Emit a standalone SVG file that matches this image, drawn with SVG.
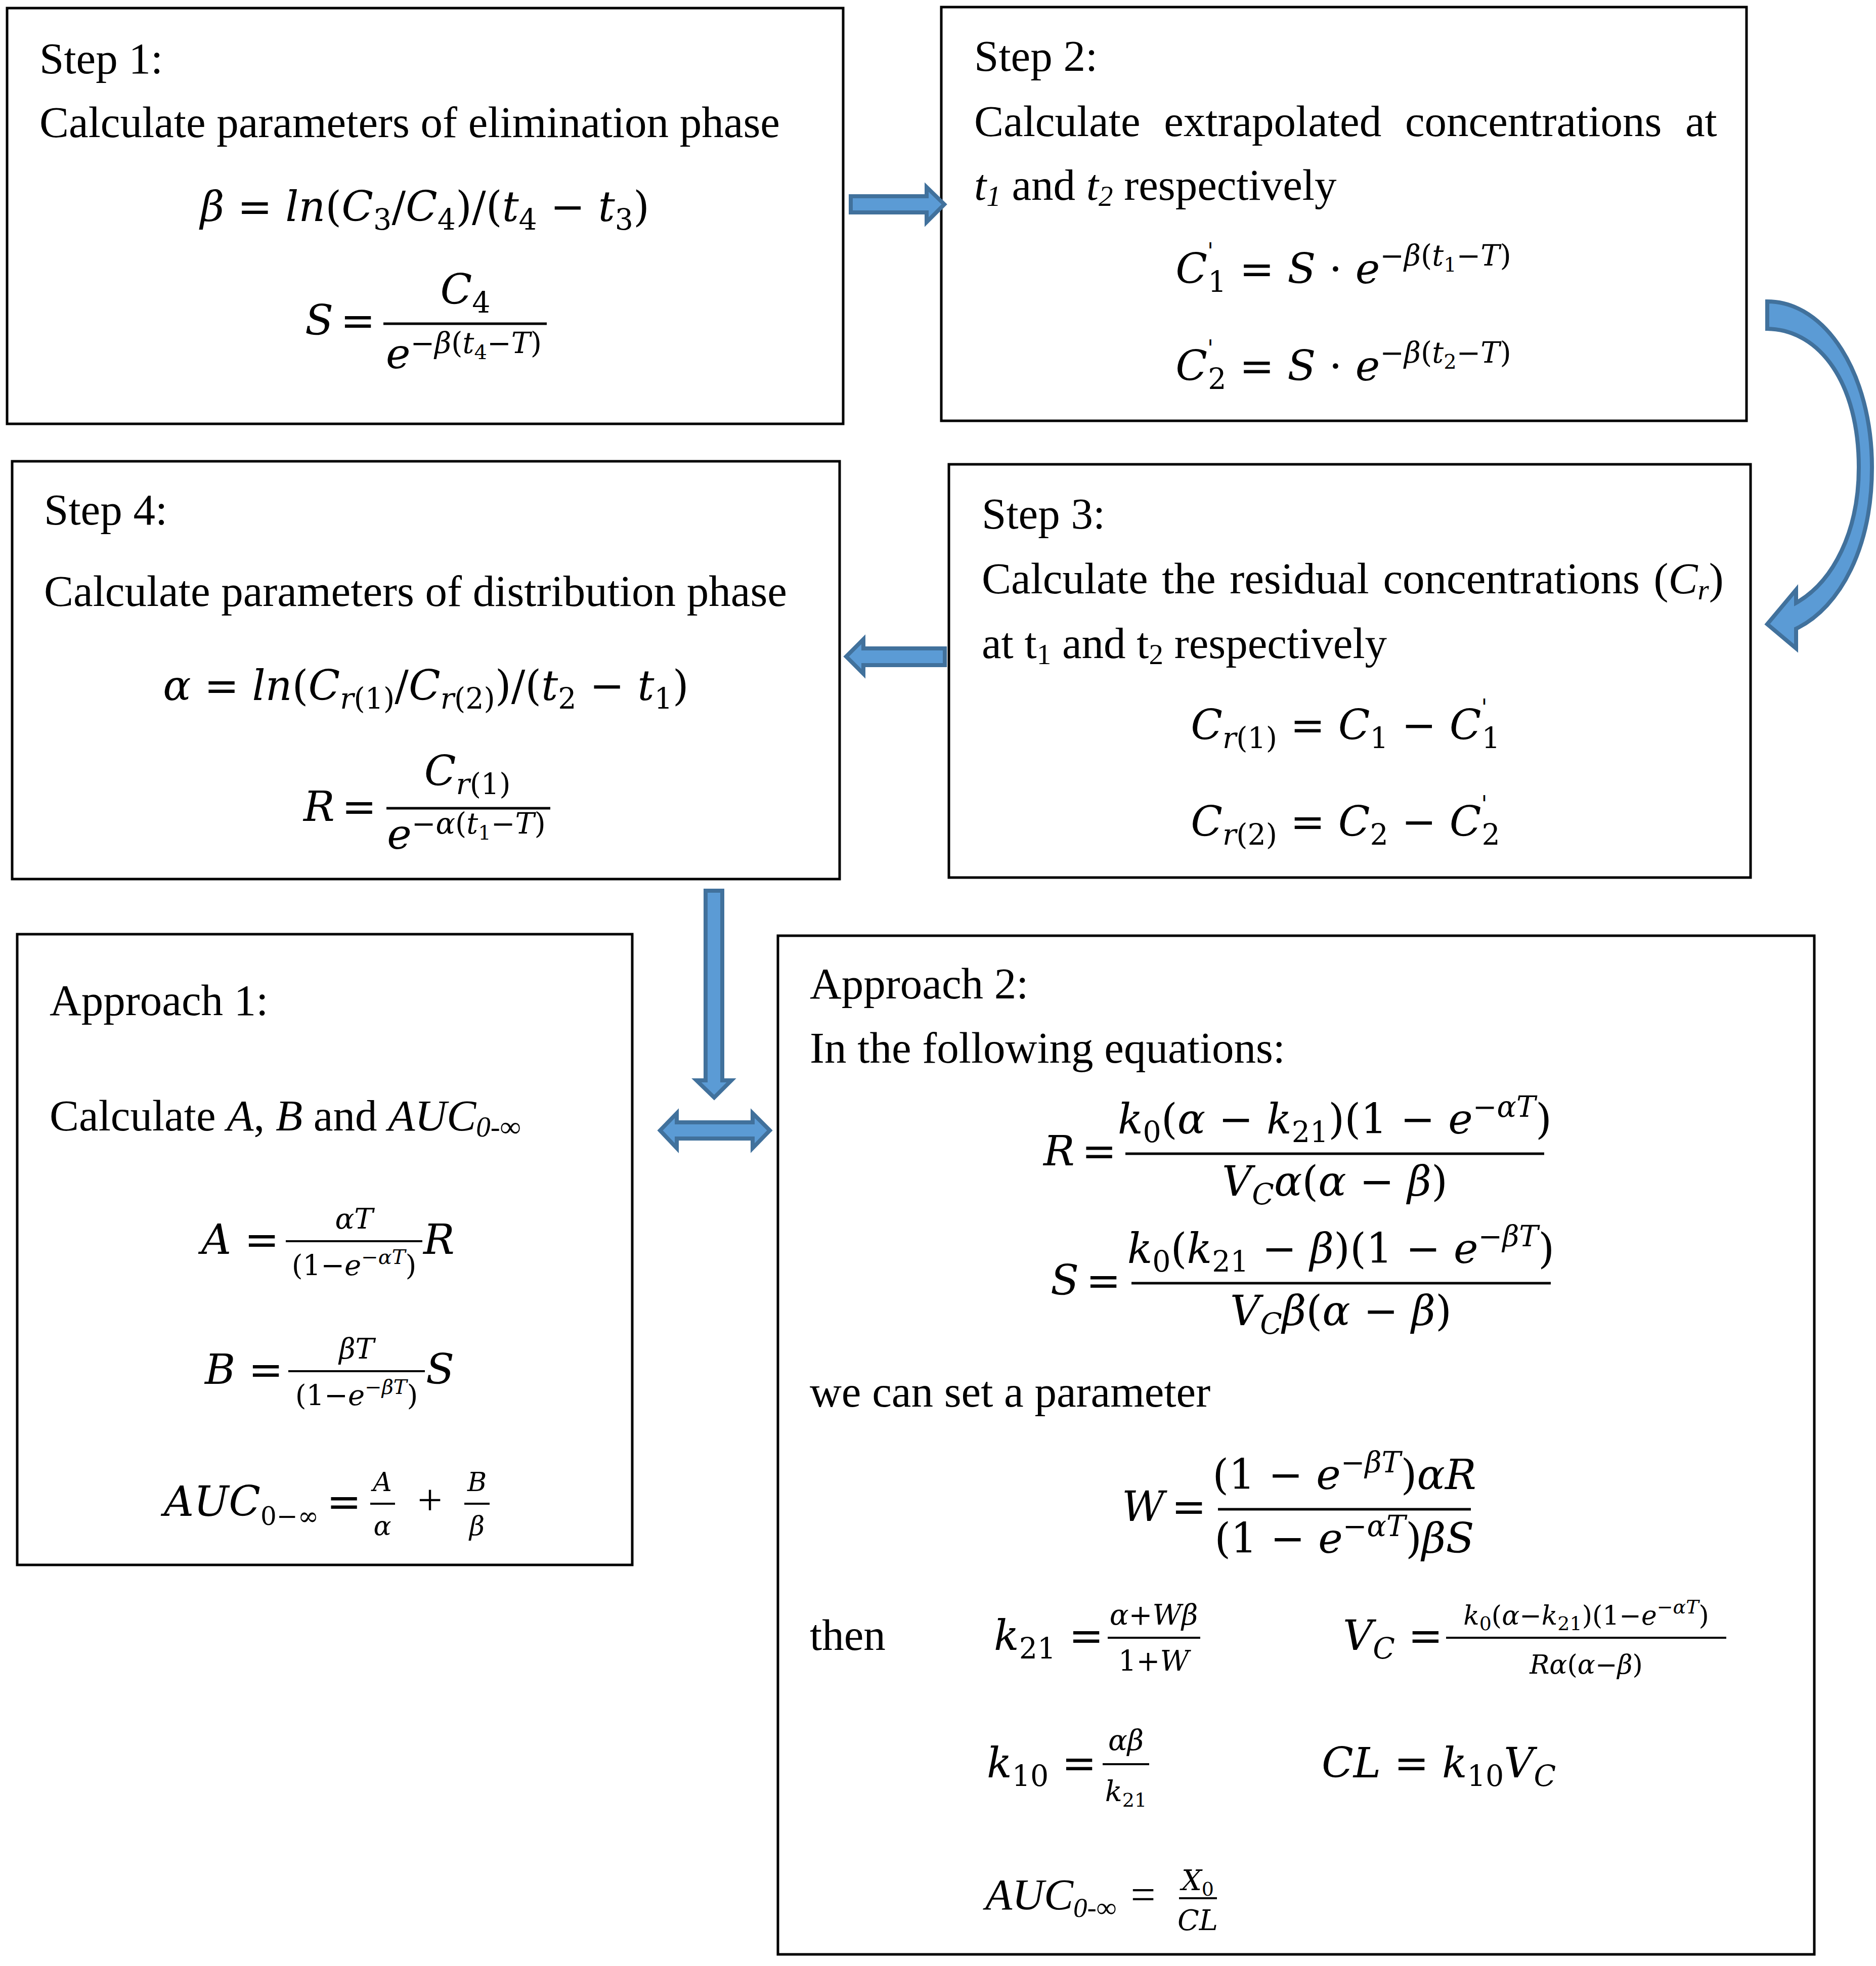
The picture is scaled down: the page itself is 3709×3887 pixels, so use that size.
<svg xmlns="http://www.w3.org/2000/svg" width="3709" height="3887" viewBox="0 0 3709 3887">
<style>
.bg{fill:#fff}
.box{fill:#fff;stroke:#000;stroke-width:5}
.tx{font-family:"Liberation Serif","Times New Roman",serif;font-size:87px;fill:#000}
.mx{font-family:"DejaVu Serif",serif;font-size:82px;fill:#000}
.i{font-style:italic}
.sb{font-size:57px}
.sp{font-size:57px}
.pr{font-size:44px}
.ss{font-size:40px}
.f2{font-size:56px}
.f3{font-size:52px}
.s3{font-size:38px}
.fl{stroke:#000;stroke-width:5}
.fl2{stroke:#000;stroke-width:4}
.arr{fill:#5B9BD5;stroke:#41719C;stroke-width:8;stroke-linejoin:miter}
</style>
<rect class="bg" x="0" y="0" width="3709" height="3887"/>

<g id="step1">
<rect class="box" x="14" y="16" width="1653" height="822"/>
<text class="tx" x="78" y="145">Step 1:</text>
<text class="tx" x="78" y="271">Calculate parameters of elimination phase</text>
<text class="mx" x="840" y="437" text-anchor="middle"><tspan class="i">β</tspan> = <tspan class="i">ln</tspan>(<tspan class="i">C</tspan><tspan class="sb" dy="17">3</tspan><tspan dy="-17">/</tspan><tspan class="i">C</tspan><tspan class="sb" dy="17">4</tspan><tspan dy="-17">)/(</tspan><tspan class="i">t</tspan><tspan class="sb" dy="17">4</tspan><tspan dy="-17"> − </tspan><tspan class="i">t</tspan><tspan class="sb" dy="17">3</tspan><tspan dy="-17">)</tspan></text>
<text class="mx" x="603" y="662"><tspan class="i">S</tspan><tspan dx="14">=</tspan></text>
<line class="fl" x1="758" y1="640" x2="1081" y2="640"/>
<text class="mx" x="920" y="601" text-anchor="middle"><tspan class="i">C</tspan><tspan class="sb" dy="17">4</tspan></text>
<text class="mx" x="917" y="728" text-anchor="middle"><tspan class="i">e</tspan><tspan class="sp" dy="-30">−</tspan><tspan class="sp i">β</tspan><tspan class="sp">(</tspan><tspan class="sp i">t</tspan><tspan class="ss" dy="12">4</tspan><tspan class="sp" dy="-12">−</tspan><tspan class="sp i">T</tspan><tspan class="sp">)</tspan></text>
</g>

<g id="step2">
<rect class="box" x="1861" y="14" width="1592" height="818"/>
<text class="tx" x="1926" y="140">Step 2:</text>
<text class="tx" x="1926" y="269" word-spacing="25">Calculate extrapolated concentrations at</text>
<text class="tx" x="1926" y="395"><tspan class="i">t</tspan><tspan class="i" font-size="57" dy="12">1</tspan><tspan dy="-12"> and </tspan><tspan class="i">t</tspan><tspan class="i" font-size="57" dy="12">2</tspan><tspan dy="-12"> respectively</tspan></text>
<text class="mx" x="2656" y="560" text-anchor="middle"><tspan class="i">C</tspan><tspan class="pr" dy="-48">'</tspan><tspan class="sb" dx="-11" dy="65">1</tspan><tspan dy="-17"> = </tspan><tspan class="i">S</tspan> · <tspan class="i">e</tspan><tspan class="sp" dy="-35">−</tspan><tspan class="sp i">β</tspan><tspan class="sp">(</tspan><tspan class="sp i">t</tspan><tspan class="ss" dy="12">1</tspan><tspan class="sp" dy="-12">−</tspan><tspan class="sp i">T</tspan><tspan class="sp">)</tspan></text>
<text class="mx" x="2656" y="752" text-anchor="middle"><tspan class="i">C</tspan><tspan class="pr" dy="-48">'</tspan><tspan class="sb" dx="-11" dy="65">2</tspan><tspan dy="-17"> = </tspan><tspan class="i">S</tspan> · <tspan class="i">e</tspan><tspan class="sp" dy="-35">−</tspan><tspan class="sp i">β</tspan><tspan class="sp">(</tspan><tspan class="sp i">t</tspan><tspan class="ss" dy="12">2</tspan><tspan class="sp" dy="-12">−</tspan><tspan class="sp i">T</tspan><tspan class="sp">)</tspan></text>
</g>

<g id="step3">
<rect class="box" x="1876" y="918" width="1585" height="817"/>
<text class="tx" x="1941" y="1045">Step 3:</text>
<text class="tx" x="1941" y="1173" word-spacing="6">Calculate the residual concentrations (<tspan class="i">C</tspan><tspan class="i" font-size="57" dy="12">r</tspan><tspan dy="-12">)</tspan></text>
<text class="tx" x="1941" y="1301">at t<tspan font-size="57" dy="12">1</tspan><tspan dy="-12"> and t</tspan><tspan font-size="57" dy="12">2</tspan><tspan dy="-12"> respectively</tspan></text>
<text class="mx" x="2660" y="1462" text-anchor="middle"><tspan class="i">C</tspan><tspan class="sb i" dy="17">r</tspan><tspan class="sb">(1)</tspan><tspan dy="-17"> = </tspan><tspan class="i">C</tspan><tspan class="sb" dy="17">1</tspan><tspan dy="-17"> − </tspan><tspan class="i">C</tspan><tspan class="pr" dy="-48">'</tspan><tspan class="sb" dx="-11" dy="65">1</tspan></text>
<text class="mx" x="2660" y="1653" text-anchor="middle"><tspan class="i">C</tspan><tspan class="sb i" dy="17">r</tspan><tspan class="sb">(2)</tspan><tspan dy="-17"> = </tspan><tspan class="i">C</tspan><tspan class="sb" dy="17">2</tspan><tspan dy="-17"> − </tspan><tspan class="i">C</tspan><tspan class="pr" dy="-48">'</tspan><tspan class="sb" dx="-11" dy="65">2</tspan></text>
</g>

<g id="step4">
<rect class="box" x="24" y="912" width="1636" height="826"/>
<text class="tx" x="87" y="1037">Step 4:</text>
<text class="tx" x="87" y="1198">Calculate parameters of distribution phase</text>
<text class="mx" x="842" y="1384" text-anchor="middle"><tspan class="i">α</tspan> = <tspan class="i">ln</tspan>(<tspan class="i">C</tspan><tspan class="sb i" dy="17">r</tspan><tspan class="sb">(1)</tspan><tspan dy="-17">/</tspan><tspan class="i">C</tspan><tspan class="sb i" dy="17">r</tspan><tspan class="sb">(2)</tspan><tspan dy="-17">)/(</tspan><tspan class="i">t</tspan><tspan class="sb" dy="17">2</tspan><tspan dy="-17"> − </tspan><tspan class="i">t</tspan><tspan class="sb" dy="17">1</tspan><tspan dy="-17">)</tspan></text>
<text class="mx" x="600" y="1623"><tspan class="i">R</tspan><tspan dx="14">=</tspan></text>
<line class="fl" x1="764" y1="1598" x2="1088" y2="1598"/>
<text class="mx" x="924" y="1553" text-anchor="middle"><tspan class="i">C</tspan><tspan class="sb i" dy="17">r</tspan><tspan class="sb">(1)</tspan></text>
<text class="mx" x="922" y="1678" text-anchor="middle"><tspan class="i">e</tspan><tspan class="sp" dy="-30">−</tspan><tspan class="sp i">α</tspan><tspan class="sp">(</tspan><tspan class="sp i">t</tspan><tspan class="ss" dy="12">1</tspan><tspan class="sp" dy="-12">−</tspan><tspan class="sp i">T</tspan><tspan class="sp">)</tspan></text>
</g>

<g id="approach1">
<rect class="box" x="34" y="1847" width="1216" height="1247"/>
<text class="tx" x="98" y="2007">Approach 1:</text>
<text class="tx" x="98" y="2235">Calculate <tspan class="i">A</tspan>, <tspan class="i">B</tspan> and <tspan class="i">AUC</tspan><tspan class="i" font-size="57" dy="12">0-∞</tspan></text>
<text class="mx" x="398" y="2479"><tspan class="i">A</tspan> =</text>
<line class="fl2" x1="565" y1="2454" x2="835" y2="2454"/>
<text class="mx f2" x="700" y="2429" text-anchor="middle"><tspan class="i">αT</tspan></text>
<text class="mx f2" x="700" y="2521" text-anchor="middle">(1−<tspan class="i">e</tspan><tspan class="ss" dy="-22">−</tspan><tspan class="ss i">αT</tspan><tspan dy="22">)</tspan></text>
<text class="mx i" x="837" y="2479">R</text>
<text class="mx" x="405" y="2736"><tspan class="i">B</tspan> =</text>
<line class="fl2" x1="570" y1="2711" x2="840" y2="2711"/>
<text class="mx f2" x="705" y="2686" text-anchor="middle"><tspan class="i">βT</tspan></text>
<text class="mx f2" x="705" y="2778" text-anchor="middle">(1−<tspan class="i">e</tspan><tspan class="ss" dy="-22">−</tspan><tspan class="ss i">βT</tspan><tspan dy="22">)</tspan></text>
<text class="mx i" x="842" y="2736">S</text>
<text class="mx" x="324" y="2997"><tspan class="i">AUC</tspan><tspan font-size="50" dy="18">0−∞</tspan></text>
<text class="mx" x="680" y="2997" text-anchor="middle">=</text>
<line class="fl2" x1="732" y1="2973" x2="781" y2="2973"/>
<text class="mx f3 i" x="756" y="2948" text-anchor="middle">A</text>
<text class="mx f3 i" x="756" y="3035" text-anchor="middle">α</text>
<text class="tx" x="850" y="2995" text-anchor="middle" font-size="75">+</text>
<line class="fl2" x1="918" y1="2973" x2="968" y2="2973"/>
<text class="mx f3 i" x="943" y="2948" text-anchor="middle">B</text>
<text class="mx f3 i" x="943" y="3035" text-anchor="middle">β</text>
</g>

<g id="approach2">
<rect class="box" x="1538" y="1850" width="2049" height="2014"/>
<text class="tx" x="1601" y="1974">Approach 2:</text>
<text class="tx" x="1601" y="2101">In the following equations:</text>
<text class="mx" x="2063" y="2304"><tspan class="i">R</tspan><tspan dx="14">=</tspan></text>
<line class="fl" x1="2225" y1="2281" x2="3053" y2="2281"/>
<text class="mx" x="2639" y="2241" text-anchor="middle"><tspan class="i">k</tspan><tspan class="sb" dy="17">0</tspan><tspan dy="-17">(</tspan><tspan class="i">α</tspan> − <tspan class="i">k</tspan><tspan class="sb" dy="17">21</tspan><tspan dy="-17">)(1 − </tspan><tspan class="i">e</tspan><tspan class="sp" dy="-33">−</tspan><tspan class="sp i">αT</tspan><tspan dy="33">)</tspan></text>
<text class="mx" x="2639" y="2364" text-anchor="middle"><tspan class="i">V</tspan><tspan class="sb i" dy="17">C</tspan><tspan class="i" dy="-17">α</tspan>(<tspan class="i">α</tspan> − <tspan class="i">β</tspan>)</text>
<text class="mx" x="2077" y="2560"><tspan class="i">S</tspan><tspan dx="14">=</tspan></text>
<line class="fl" x1="2237" y1="2537" x2="3066" y2="2537"/>
<text class="mx" x="2651" y="2497" text-anchor="middle"><tspan class="i">k</tspan><tspan class="sb" dy="17">0</tspan><tspan dy="-17">(</tspan><tspan class="i">k</tspan><tspan class="sb" dy="17">21</tspan><tspan dy="-17"> − </tspan><tspan class="i">β</tspan>)(1 − <tspan class="i">e</tspan><tspan class="sp" dy="-33">−</tspan><tspan class="sp i">βT</tspan><tspan dy="33">)</tspan></text>
<text class="mx" x="2651" y="2620" text-anchor="middle"><tspan class="i">V</tspan><tspan class="sb i" dy="17">C</tspan><tspan class="i" dy="-17">β</tspan>(<tspan class="i">α</tspan> − <tspan class="i">β</tspan>)</text>
<text class="tx" x="1601" y="2781">we can set a parameter</text>
<text class="mx" x="2218" y="3007"><tspan class="i">W</tspan><tspan dx="14">=</tspan></text>
<line class="fl" x1="2408" y1="2984" x2="2908" y2="2984"/>
<text class="mx" x="2658" y="2944" text-anchor="middle">(1 − <tspan class="i">e</tspan><tspan class="sp" dy="-33">−</tspan><tspan class="sp i">βT</tspan><tspan dy="33">)</tspan><tspan class="i">αR</tspan></text>
<text class="mx" x="2658" y="3070" text-anchor="middle">(1 − <tspan class="i">e</tspan><tspan class="sp" dy="-33">−</tspan><tspan class="sp i">αT</tspan><tspan dy="33">)</tspan><tspan class="i">βS</tspan></text>
<text class="tx" x="1601" y="3262">then</text>
<text class="mx" x="1965" y="3262"><tspan class="i">k</tspan><tspan class="sb" dy="17">21</tspan><tspan dy="-17"> =</tspan></text>
<line class="fl2" x1="2190" y1="3238" x2="2373" y2="3238"/>
<text class="mx f2" x="2281" y="3212" text-anchor="middle"><tspan class="i">α</tspan>+<tspan class="i">Wβ</tspan></text>
<text class="mx f2" x="2281" y="3303" text-anchor="middle">1+<tspan class="i">W</tspan></text>
<text class="mx" x="2655" y="3262"><tspan class="i">V</tspan><tspan class="sb i" dy="17">C</tspan><tspan dy="-17"> =</tspan></text>
<line class="fl2" x1="2859" y1="3238" x2="3413" y2="3238"/>
<text class="mx f3" x="3136" y="3212" text-anchor="middle"><tspan class="i">k</tspan><tspan class="s3" dy="11">0</tspan><tspan dy="-11">(</tspan><tspan class="i">α</tspan>−<tspan class="i">k</tspan><tspan class="s3" dy="11">21</tspan><tspan dy="-11">)(1−</tspan><tspan class="i">e</tspan><tspan class="s3" dy="-22">−</tspan><tspan class="s3 i">αT</tspan><tspan dy="22">)</tspan></text>
<text class="mx f3" x="3136" y="3309" text-anchor="middle"><tspan class="i">Rα</tspan>(<tspan class="i">α</tspan>−<tspan class="i">β</tspan>)</text>
<text class="mx" x="1951" y="3514"><tspan class="i">k</tspan><tspan class="sb" dy="17">10</tspan><tspan dy="-17"> =</tspan></text>
<line class="fl2" x1="2180" y1="3488" x2="2272" y2="3488"/>
<text class="mx f2 i" x="2226" y="3460" text-anchor="middle">αβ</text>
<text class="mx f2" x="2226" y="3561" text-anchor="middle"><tspan class="i">k</tspan><tspan class="s3" dy="11">21</tspan></text>
<text class="mx" x="2613" y="3514"><tspan class="i">CL</tspan> = <tspan class="i">k</tspan><tspan class="sb" dy="17">10</tspan><tspan class="i" dy="-17">V</tspan><tspan class="sb i" dy="17">C</tspan></text>
<text class="tx i" x="1948" y="3775">AUC<tspan font-size="55" dy="15">0-∞</tspan></text>
<text class="tx" x="2260" y="3775" text-anchor="middle">=</text>
<line class="fl2" x1="2331" y1="3753" x2="2406" y2="3753"/>
<text class="mx f2" x="2368" y="3737" text-anchor="middle"><tspan class="i">X</tspan><tspan class="s3" dy="11">0</tspan></text>
<text class="mx f2 i" x="2368" y="3816" text-anchor="middle">CL</text>
</g>

<g id="connectors">
<polygon class="arr" points="1682,388 1832,388 1832,370 1867,404 1832,439 1832,420 1682,420"/>
<path class="arr" stroke-width="6" d="M 3494 596 C 3610 596, 3701 740, 3701 924 C 3701 1080, 3640 1200, 3551 1243 L 3551 1282 L 3494 1234 L 3551 1166 L 3551 1192 C 3625 1150, 3675 1050, 3675 924 C 3675 760, 3600 652, 3494 650 Z"/>
<polygon class="arr" points="1868,1282 1707,1282 1707,1264 1673,1298 1707,1332 1707,1315 1868,1315"/>
<polygon class="arr" points="1395,1761 1428,1761 1428,2136 1446,2136 1412,2170 1377,2136 1395,2136"/>
<polygon class="arr" points="1305,2235 1338,2201 1338,2219 1488,2219 1488,2201 1522,2235 1488,2270 1488,2251 1338,2251 1338,2270"/>
</g>
</svg>
